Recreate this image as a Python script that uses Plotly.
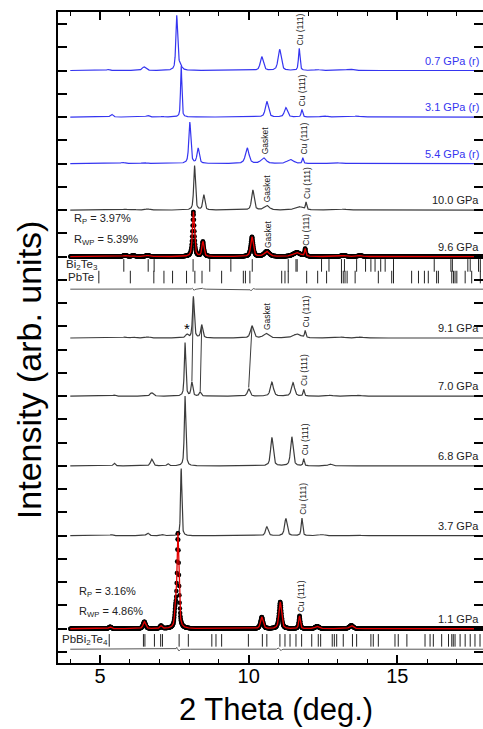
import numpy as np
import plotly.graph_objects as go

# ---------------- data ----------------
labels = ["0.7 GPa (r)", "3.1 GPa (r)", "5.4 GPa (r)", "10.0 GPa", "9.6 GPa",
          "9.1 GPa", "7.0 GPa", "6.8 GPa", "3.7 GPa", "1.1 GPa"]
offsets = [25.0, 23.0, 21.0, 19.0, 17.0, 13.5, 11.0, 8.0, 5.0, 1.0]
released = [True, True, True, False, False, False, False, False, False, False]
refined = [False, False, False, False, True, False, False, False, False, True]

# peak tables: position (deg), height (arb.), FWHM (deg)
p07_pos = [5.27, 6.48, 7.10, 7.58, 7.68, 10.44, 11.04, 11.70, 12.30, 13.40]
p07_h   = [0.05, 0.16, 0.03, 2.30, 0.22, 0.59, 0.91, 0.95, 0.04, 0.06]
p07_w   = [0.10, 0.14, 0.10, 0.07, 0.15, 0.12, 0.12, 0.06, 0.20, 0.25]

p31_pos = [5.39, 6.60, 7.10, 7.73, 10.61, 11.25, 11.79, 12.52, 13.64]
p31_h   = [0.12, 0.07, 0.03, 2.20, 0.67, 0.40, 0.32, 0.05, 0.04]
p31_w   = [0.10, 0.12, 0.10, 0.05, 0.12, 0.12, 0.06, 0.20, 0.25]

p54_pos = [5.76, 6.48, 8.02, 8.30, 9.95, 10.50, 11.40, 11.82, 12.89]
p54_h   = [0.05, 0.04, 1.77, 0.65, 0.67, 0.24, 0.17, 0.24, 0.05]
p54_w   = [0.15, 0.15, 0.08, 0.09, 0.14, 0.20, 0.25, 0.05, 0.25]

p100_pos = [5.84, 6.12, 6.60, 8.18, 8.49, 10.14, 10.61, 11.68, 11.93, 13.19, 13.75]
p100_h   = [0.04, 0.03, 0.05, 1.91, 0.65, 0.86, 0.19, 0.15, 0.32, 0.04, 0.03]
p100_w   = [0.15, 0.15, 0.15, 0.07, 0.08, 0.10, 0.20, 0.30, 0.05, 0.20, 0.20]

p96_pos = [5.84, 6.12, 6.60, 8.14, 8.46, 10.11, 10.61, 11.62, 11.90, 13.19, 13.75]
p96_h   = [0.05, 0.04, 0.05, 1.93, 0.64, 0.85, 0.22, 0.17, 0.32, 0.05, 0.04]
p96_w   = [0.15, 0.15, 0.15, 0.08, 0.08, 0.10, 0.20, 0.30, 0.05, 0.20, 0.20]

p91_pos = [5.84, 6.12, 6.60, 7.92, 8.14, 8.42, 10.11, 10.58, 11.62, 11.90, 13.14, 13.75]
p91_h   = [0.04, 0.04, 0.05, 0.15, 1.78, 0.56, 0.52, 0.20, 0.17, 0.30, 0.04, 0.04]
p91_w   = [0.15, 0.15, 0.15, 0.10, 0.07, 0.08, 0.12, 0.20, 0.30, 0.05, 0.20, 0.20]

p70_pos = [5.48, 6.74, 7.86, 8.09, 8.37, 10.00, 10.78, 11.49, 11.85, 12.74, 13.70]
p70_h   = [0.05, 0.15, 2.30, 0.60, 0.17, 0.32, 0.60, 0.58, 0.28, 0.04, 0.04]
p70_w   = [0.10, 0.12, 0.06, 0.07, 0.08, 0.10, 0.12, 0.12, 0.05, 0.20, 0.20]

p68_pos = [5.48, 6.74, 7.28, 7.86, 10.78, 11.45, 11.85, 12.74]
p68_h   = [0.12, 0.29, 0.10, 3.00, 1.22, 1.25, 0.30, 0.08]
p68_w   = [0.08, 0.10, 0.08, 0.06, 0.10, 0.10, 0.05, 0.15]

p37_pos = [5.39, 6.60, 7.10, 7.73, 10.61, 11.25, 11.79, 12.46, 13.64]
p37_h   = [0.05, 0.12, 0.05, 2.90, 0.38, 0.74, 0.76, 0.05, 0.04]
p37_w   = [0.10, 0.10, 0.10, 0.05, 0.10, 0.10, 0.06, 0.20, 0.20]

p11_pos = [5.34, 6.49, 7.05, 7.53, 7.62, 10.44, 11.06, 11.71, 12.30, 13.45]
p11_h   = [0.08, 0.30, 0.12, 0.55, 4.10, 0.50, 1.15, 0.55, 0.10, 0.14]
p11_w   = [0.10, 0.10, 0.08, 0.06, 0.08, 0.10, 0.10, 0.06, 0.15, 0.15]

peak_tables = [(p07_pos, p07_h, p07_w), (p31_pos, p31_h, p31_w), (p54_pos, p54_h, p54_w),
               (p100_pos, p100_h, p100_w), (p96_pos, p96_h, p96_w), (p91_pos, p91_h, p91_w),
               (p70_pos, p70_h, p70_w), (p68_pos, p68_h, p68_w), (p37_pos, p37_h, p37_w),
               (p11_pos, p11_h, p11_w)]

# Cu(111) and gasket peak positions per pattern (None = not labelled)
cu_pos = [11.70, 11.79, 11.82, 11.93, 11.90, 11.90, 11.85, 11.85, 11.79, 11.71]
gasket_pos = [None, None, 10.50, 10.61, 10.61, 10.58, None, None, None, None]

# refinement residuals (difference curves)
diff96_offset = 15.6
diff96_pos = [6.2, 8.10, 8.16, 8.45, 10.08, 10.14]
diff96_h   = [-0.02, 0.05, -0.05, 0.04, -0.08, 0.04]
diff96_w   = [1.20, 0.04, 0.04, 0.05, 0.05, 0.05]
diff11_offset = 0.12
diff11_pos = [7.58, 7.66, 10.45, 11.00, 11.08]
diff11_h   = [0.08, -0.08, -0.03, 0.05, -0.06]
diff11_w   = [0.03, 0.03, 0.06, 0.05, 0.05]

rfac96 = ["R<sub>P</sub> = 3.97%", "R<sub>WP</sub> = 5.39%"]
rfac11 = ["R<sub>P</sub> = 3.16%", "R<sub>WP</sub> = 4.86%"]

# reflection markers
bi2te3_name = "Bi<sub>2</sub>Te<sub>3</sub>"
bi2te3_row = 16.62
bi2te3_ticks = [5.80, 6.62, 6.82, 8.13, 8.69, 9.40, 10.12, 11.33, 11.59, 11.63, 12.45, 12.70,
                13.12, 13.22, 13.63, 13.93, 14.11, 14.25, 14.44, 14.59, 14.87, 16.24, 16.80,
                16.85, 17.37, 17.45, 17.73, 17.79]
pbte_name = "PbTe"
pbte_row = 16.12
pbte_ticks = [4.96, 6.02, 6.81, 7.15, 7.44, 7.91, 8.19, 8.43, 9.09, 9.82, 9.89, 10.04, 11.11,
              11.22, 11.33, 11.95, 12.32, 12.62, 13.12, 13.18, 13.24, 13.31, 13.58, 14.36,
              14.81, 14.87, 15.48, 15.71, 15.91, 16.04, 16.32, 16.38, 16.83, 16.89, 16.94,
              17.00, 17.28, 17.50, 17.79]
pbbi_name = "PbBi<sub>2</sub>Te<sub>4</sub>"
pbbi_row = 0.50
pbbi_ticks = [5.31, 6.46, 6.51, 6.83, 7.04, 7.10, 7.66, 7.97, 8.76, 8.90, 9.09, 9.99, 10.46,
              10.61, 11.05, 11.22, 11.39, 11.59, 11.78, 12.12, 12.34, 12.42, 12.81, 12.88,
              12.96, 13.18, 13.49, 13.63, 14.11, 14.19, 14.36, 14.92, 15.03, 15.32, 15.93,
              16.10, 16.21, 16.49, 16.72, 16.83, 16.88, 16.94, 17.11, 17.28, 17.45, 17.61,
              17.78]

# guide lines from 9.1 GPa peaks to 7.0 GPa peaks (indices into peak tables)
guide_from_91 = [4, 5, 6]
guide_to_70 = [3, 4, 5]

x_tickvals = [5, 10, 15]

# ---------------- rendering ----------------
FONT = "Liberation Sans, Arial, sans-serif"
BLUE = "#3535f0"
GREY = "#3c3c3c"
x_calc = np.arange(4.0, 18.2, 0.004)   # fine grid for the lines
x_obs = np.arange(4.0, 18.2, 0.008)    # measurement grid for the observed points
X_RANGE = [3.587, 17.88]
Y_RANGE = [-0.473, 27.516]


def profile(xx, pos, h, w, eta=0.6):
    y = np.zeros_like(xx)
    for p, a, fw in zip(pos, h, w):
        d = (xx - p) / (fw / 2.0)
        y += a * (eta / (1 + d * d) + (1 - eta) * np.exp(-np.log(2) * d * d))
    return y


fig = go.Figure()
for i, (lab, off) in enumerate(zip(labels, offsets)):
    pos, h, w = peak_tables[i]
    y = profile(x_calc, pos, h, w)
    if refined[i]:
        fig.add_trace(go.Scatter(x=x_obs, y=profile(x_obs, pos, h, w) + off, mode="markers",
                                 marker=dict(color="black", size=4.5, line=dict(width=0)),
                                 hoverinfo="skip", showlegend=False))
        fig.add_trace(go.Scatter(x=x_calc, y=y + off, mode="lines",
                                 line=dict(color="#e60000", width=1.3),
                                 hoverinfo="skip", showlegend=False))
    else:
        fig.add_trace(go.Scatter(x=x_calc, y=y + off, mode="lines",
                                 line=dict(color=BLUE if released[i] else GREY, width=1.2),
                                 hoverinfo="skip", showlegend=False))

# difference curves
for off, pos, h, w in [(diff96_offset, diff96_pos, diff96_h, diff96_w),
                       (diff11_offset, diff11_pos, diff11_h, diff11_w)]:
    fig.add_trace(go.Scatter(x=x_calc, y=profile(x_calc, pos, h, w) + off, mode="lines",
                             line=dict(color="#555555", width=1),
                             hoverinfo="skip", showlegend=False))

# reflection tick marks
for row, ticks in [(bi2te3_row, bi2te3_ticks), (pbte_row, pbte_ticks), (pbbi_row, pbbi_ticks)]:
    fig.add_trace(go.Scatter(x=ticks, y=[row] * len(ticks), mode="markers",
                             marker=dict(symbol="line-ns", size=9,
                                         line=dict(color="#222222", width=1)),
                             hoverinfo="skip", showlegend=False))

# guide lines between 9.1 GPa and 7.0 GPa peaks
i91 = labels.index("9.1 GPa")
i70 = labels.index("7.0 GPa")
for a, b in zip(guide_from_91, guide_to_70):
    xa, ya = p91_pos[a], p91_h[a] + offsets[i91]
    xb, yb = p70_pos[b], p70_h[b] + offsets[i70]
    fig.add_trace(go.Scatter(x=[xa, xb], y=[ya - 0.05, yb + 0.05], mode="lines",
                             line=dict(color=GREY, width=1),
                             hoverinfo="skip", showlegend=False))

# invisible trace carrying the right-hand tick axis
fig.add_trace(go.Scatter(x=[X_RANGE[0]], y=[Y_RANGE[0]], yaxis="y2", mode="markers",
                         marker=dict(opacity=0), hoverinfo="skip", showlegend=False))

ann = []
# pressure labels
for i, (lab, off) in enumerate(zip(labels, offsets)):
    ann.append(dict(xref="paper", yref="y", x=1.0, y=off, xanchor="right", yanchor="middle",
                    xshift=-2, yshift=10, text=lab, showarrow=False,
                    font=dict(family=FONT, size=11, color=BLUE if released[i] else "#222222")))

# Cu (111) / Gasket labels
for i, off in enumerate(offsets):
    pos, h, w = peak_tables[i]
    for txt, px in [("Cu (111)", cu_pos[i]), ("Gasket", gasket_pos[i])]:
        if px is None:
            continue
        top = float(profile(np.array([px]), pos, h, w)[0]) + off
        ann.append(dict(x=px, y=top, xref="x", yref="y", text=txt, textangle=-90,
                        xanchor="center", yanchor="bottom", xshift=1, yshift=1,
                        showarrow=False, font=dict(family=FONT, size=8.5, color="#222222")))

# star
ann.append(dict(x=p91_pos[3], y=p91_h[3] + offsets[i91], text="*", showarrow=False,
                xanchor="center", yanchor="bottom", yshift=-4,
                font=dict(family=FONT, size=15, color="black")))

# R factors
i96 = labels.index("9.6 GPa")
i11 = labels.index("1.1 GPa")
for txts, off, xp in [(rfac96, offsets[i96], 0.033), (rfac11, offsets[i11], 0.045)]:
    for txt, dy in zip(txts, [1.6, 0.7]):
        ann.append(dict(xref="paper", yref="y", x=xp, y=off + dy, text=txt, showarrow=False,
                        xanchor="left", yanchor="middle",
                        font=dict(family=FONT, size=11, color="#222222")))

# phase names
for name, row, xp in [(bi2te3_name, bi2te3_row, 0.014), (pbte_name, pbte_row, 0.018),
                      (pbbi_name, pbbi_row, 0.004)]:
    ann.append(dict(xref="paper", yref="y", x=xp, y=row, text=name, showarrow=False,
                    xanchor="left", yanchor="middle",
                    font=dict(family=FONT, size=11.5, color="#222222")))

# axis titles
ann.append(dict(xref="paper", yref="paper", x=-0.068, y=0.45, text="Intensity (arb. units)",
                textangle=-90, showarrow=False, xanchor="center", yanchor="middle",
                font=dict(family=FONT, size=34, color="black")))
ann.append(dict(xref="paper", yref="paper", x=0.5, y=-0.072, text="2 Theta (deg.)",
                showarrow=False, xanchor="center", yanchor="middle", xshift=5,
                font=dict(family=FONT, size=31, color="black")))

yaxis_common = dict(range=Y_RANGE, dtick=1, tick0=0, showticklabels=False,
                    ticks="inside", ticklen=9, tickwidth=1.5, tickcolor="black",
                    showgrid=False, zeroline=False)

fig.update_layout(
    width=483, height=729,
    margin=dict(l=58, r=0, t=12, b=66),
    paper_bgcolor="white", plot_bgcolor="white",
    annotations=ann,
    xaxis=dict(range=X_RANGE, tickvals=x_tickvals, ticktext=[str(v) for v in x_tickvals],
               ticks="inside", ticklen=8, tickwidth=1.5, tickcolor="black",
               minor=dict(dtick=1, ticks="inside", ticklen=4, tickwidth=1.2, tickcolor="black"),
               showline=True, linewidth=2, linecolor="black", mirror="ticks",
               showgrid=False, zeroline=False, ticklabelstandoff=-6,
               tickfont=dict(family=FONT, size=20, color="black")),
    yaxis=dict(**yaxis_common, showline=True, linewidth=2, linecolor="black", mirror=False),
    yaxis2=dict(**yaxis_common, overlaying="y", side="right", showline=False),
)

fig.write_html("out.html")
